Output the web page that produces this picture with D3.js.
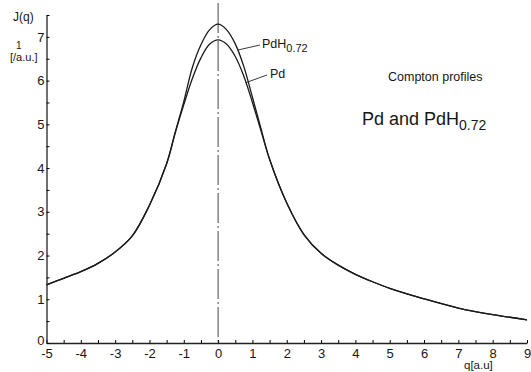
<!DOCTYPE html>
<html>
<head>
<meta charset="utf-8">
<title>Compton profiles Pd and PdH0.72</title>
<script src="https://cdn.jsdelivr.net/npm/d3@7"></script>
<style>
  body { margin: 0; background: #fff; }
  svg text { font-family: "Liberation Sans", Arial, sans-serif; fill: #161616; }
</style>
</head>
<body>
<div id="chart"></div>
<script>
// values
var q   = [-5, -4.5, -4, -3.5, -3, -2.5, -2, -1.5, -1.25, -1, -0.75, -0.5, -0.25, 0,
           0.25, 0.5, 0.75, 1, 1.25, 1.5, 2, 2.5, 3, 3.5, 4, 4.5, 5, 6, 7, 8, 9];
var pd  = [1.33, 1.48, 1.63, 1.82, 2.08, 2.45, 3.15, 4.1, 4.8, 5.45, 6.05, 6.52, 6.83, 6.93,
           6.83, 6.55, 6.1, 5.5, 4.85, 4.2, 3.2, 2.48, 2.05, 1.78, 1.57, 1.4, 1.25, 1.01, 0.8, 0.65, 0.53];
var pdh = [1.33, 1.48, 1.63, 1.82, 2.08, 2.45, 3.15, 4.1, 4.82, 5.52, 6.3, 6.82, 7.16, 7.29,
           7.16, 6.84, 6.32, 5.62, 4.9, 4.2, 3.2, 2.48, 2.05, 1.78, 1.57, 1.4, 1.25, 1.01, 0.8, 0.65, 0.53];

var xLabels = [-5, -4, -3, -2, -1, 0, 1, 2, 3, 4, 5, 6, 7, 8, 9];
var yLabels = [0, 1, 2, 3, 4, 5, 6, 7];

const width = 531, height = 372;

var svg = d3.select("#chart").append("svg")
    .attr("width", width)
    .attr("height", height);

var x = d3.scaleLinear().domain([-5, 9]).range([46.5, 527]);
var y = d3.scaleLinear().domain([0, 7.5]).range([343, 15]);

// major ticks plus the half-unit marks in between
var xTicks = xLabels.concat(xLabels.slice(0, -1).map(d => d + 0.5));
var yTicks = yLabels.concat(yLabels.map(d => d + 0.5));
var intOnly = d => Number.isInteger(d) ? String(d) : "";

// dashed line at q = 0
svg.append("line")
    .attr("x1", x(0)).attr("x2", x(0))
    .attr("y1", 3).attr("y2", y(0))
    .attr("stroke", "#444")
    .attr("stroke-width", 1)
    .attr("stroke-dasharray", "30,3,2,3");

// ******* Axes *******
var gx = svg.append("g")
    .attr("transform", `translate(0, ${y(0)})`)
    .call(d3.axisBottom(x).tickValues(xTicks).tickFormat(intOnly)
          .tickSizeInner(-3).tickSizeOuter(0).tickPadding(6));
gx.select(".domain").attr("stroke", "#222").attr("stroke-width", 1.3);
gx.selectAll("text").attr("font-size", 13);

var gy = svg.append("g")
    .attr("transform", `translate(${x(-5)}, 0)`)
    .call(d3.axisLeft(y).tickValues(yTicks).tickFormat(intOnly)
          .tickSizeInner(-3).tickSizeOuter(0).tickPadding(2));
gy.select(".domain").attr("stroke", "#222").attr("stroke-width", 1.3);
gy.selectAll("text").attr("font-size", 13);
// lift the "0" a little off the "-5" below it
gy.selectAll(".tick text").filter(d => d === 0).attr("dy", "0.1em");

// axis captions
svg.append("text").attr("x", 13).attr("y", 21).attr("font-size", 12).text("J(q)");
svg.append("text").attr("x", 16).attr("y", 49).attr("font-size", 10).text("1");
svg.append("text").attr("x", 10).attr("y", 61).attr("font-size", 11).text("[/a.u.]");
svg.append("text").attr("x", 464).attr("y", 369).attr("font-size", 11.5).text("q[a.u]");

// ******* Curves *******
var line = d3.line()
    .x((d, i) => x(q[i]))
    .y(d => y(d))
    .curve(d3.curveCatmullRom.alpha(0.5));

[pdh, pd].forEach(function(s) {
  svg.append("path")
      .datum(s)
      .attr("d", line)
      .attr("fill", "none")
      .attr("stroke", "#1a1a1a")
      .attr("stroke-width", 1.3);
});

// curve labels with leader lines
svg.append("line").attr("x1", x(0.58)).attr("y1", y(6.7)).attr("x2", 260).attr("y2", 45)
    .attr("stroke", "#222").attr("stroke-width", 0.9);
svg.append("line").attr("x1", x(0.8)).attr("y1", y(5.95)).attr("x2", 267).attr("y2", 75)
    .attr("stroke", "#222").attr("stroke-width", 0.9);

var t1 = svg.append("text").attr("x", 262).attr("y", 48).attr("font-size", 12.5);
t1.append("tspan").text("PdH");
t1.append("tspan").attr("dy", 4).attr("font-size", 11).text("0.72");

svg.append("text").attr("x", 270).attr("y", 78).attr("font-size", 12.5).text("Pd");

// titles
svg.append("text").attr("x", 388).attr("y", 81).attr("font-size", 12.5).text("Compton profiles");
var t2 = svg.append("text").attr("x", 362).attr("y", 125).attr("font-size", 18);
t2.append("tspan").text("Pd and PdH");
t2.append("tspan").attr("dy", 5).attr("font-size", 14).text("0.72");
</script>
</body>
</html>
